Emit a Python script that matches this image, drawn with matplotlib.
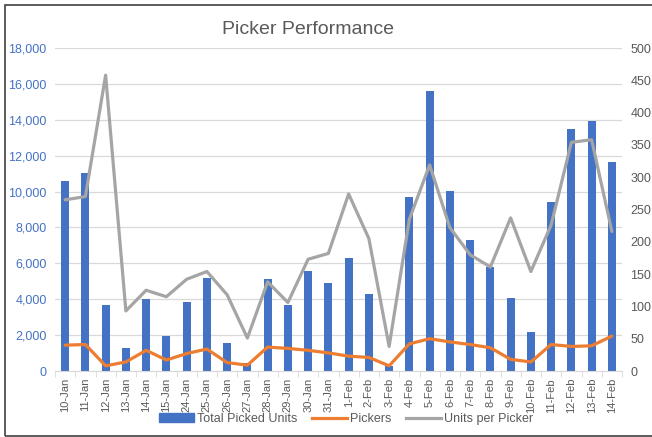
import numpy as np
from matplotlib import pyplot as plt
from matplotlib.patches import Rectangle, Patch
from matplotlib.lines import Line2D
from matplotlib.ticker import FuncFormatter, FixedLocator

plt.rcParams['font.family'] = ['Liberation Sans', 'DejaVu Sans']

# data
dates = ['10-Jan', '11-Jan', '12-Jan', '13-Jan', '14-Jan', '15-Jan', '24-Jan',
         '25-Jan', '26-Jan', '27-Jan', '28-Jan', '29-Jan', '30-Jan', '31-Jan',
         '1-Feb', '2-Feb', '3-Feb', '4-Feb', '5-Feb', '6-Feb', '7-Feb', '8-Feb',
         '9-Feb', '10-Feb', '11-Feb', '12-Feb', '13-Feb', '14-Feb']
total_units = [10600, 11050, 3700, 1300, 4000, 1950, 3850, 5200, 1550, 450,
               5100, 3700, 5550, 4900, 6300, 4300, 300, 9700, 15600, 10050,
               7300, 5800, 4050, 2150, 9400, 13500, 13950, 11650]
pickers = [40, 41, 8, 14, 32, 17, 27, 34, 13, 9, 37, 35, 32, 28, 23, 21, 8,
           42, 50, 45, 41, 36, 18, 14, 41, 38, 39, 54]
units_per_picker = [265, 270, 458, 93, 125, 115, 142, 154, 118, 51, 138, 106,
                    173, 182, 274, 205, 38, 235, 319, 222, 180, 161, 237, 154,
                    226, 354, 358, 216]

BLUE = '#4472C4'
ORANGE = '#ED7D31'
GRAY = '#A5A5A5'
TXT = '#595959'
GRID = '#D9D9D9'

fig = plt.figure(figsize=(6.52, 4.37), dpi=100)
ax = fig.add_axes([55/652, 66/437, (622-55)/652, (371-48)/437])
ax2 = ax.twinx()

x = np.arange(len(dates))
ax.bar(x, total_units, width=0.4, color=BLUE, zorder=2)
ax2.plot(x, pickers, color=ORANGE, lw=2.3, solid_capstyle='round', zorder=3)
ax2.plot(x, units_per_picker, color=GRAY, lw=2.3, solid_capstyle='round', zorder=3)

ax.set_xlim(-0.5, len(dates) - 0.5)
ax.set_ylim(0, 18000)
ax.set_yticks(np.arange(0, 18001, 2000))
ax.yaxis.set_major_formatter(FuncFormatter(lambda v, p: f'{int(v):,}'))
ax2.set_ylim(0, 500)
ax2.set_yticks(np.arange(0, 501, 50))

ax.grid(axis='y', color=GRID, lw=0.9, zorder=0)
ax.set_axisbelow(True)
for a in (ax, ax2):
    for s in a.spines.values():
        s.set_visible(False)
ax.spines['bottom'].set_visible(True)
ax.spines['bottom'].set_color(GRID)

ax.set_xticks(x)
ax.set_xticklabels(dates, rotation=90, fontsize=8, color=TXT)
ax.xaxis.set_minor_locator(FixedLocator(np.arange(-0.5, len(dates), 1)))
ax.tick_params(axis='x', which='major', length=0, pad=5)
ax.tick_params(axis='x', which='minor', length=4, color=GRID)
ax.tick_params(axis='y', length=0, labelsize=9, labelcolor=BLUE, pad=6)
ax2.tick_params(axis='y', length=0, labelsize=9, labelcolor=TXT, pad=6)

fig.text(308/652, 1 - 29/437, 'Picker Performance', ha='center', va='center',
         fontsize=14, color=TXT)

handles = [Patch(color=BLUE), Line2D([], [], color=ORANGE, lw=2.3),
           Line2D([], [], color=GRAY, lw=2.3)]
fig.legend(handles, ['Total Picked Units', 'Pickers', 'Units per Picker'],
           loc='center', bbox_to_anchor=(346/652, 1 - 419/437), ncol=3,
           frameon=False, fontsize=9, labelcolor=TXT, handlelength=2.8,
           handleheight=0.7, columnspacing=1.2, handletextpad=0.2)

# chart border, right edge runs off the picture
fig.patches.append(Rectangle((5/652, 1/437), 1.2, 431/437, transform=fig.transFigure,
                             fill=False, edgecolor='#404040', lw=1.2))

plt.savefig('out.png', dpi=100)
